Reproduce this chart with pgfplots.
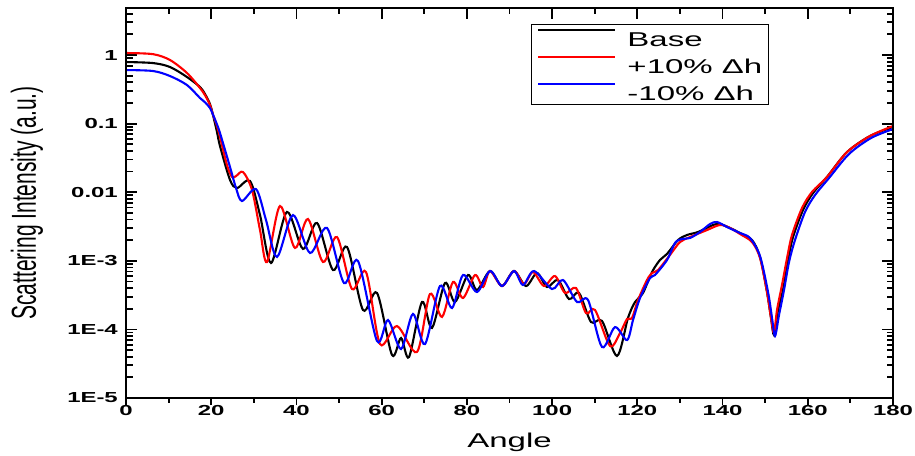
\documentclass[border=0pt]{standalone}
\usepackage{pgfplots}
\pgfplotsset{compat=1.18}
\usepackage{fontspec}
\usepackage{graphicx}
\setmainfont{Liberation Sans}
\newfontfamily\wide{Liberation Sans}[FakeStretch=1.65]
\newcommand{\tickfont}{\wide\bfseries\fontsize{14.5bp}{16bp}\selectfont}
\begin{document}
\begin{tikzpicture}
\begin{axis}[
  scale only axis, width=767bp, height=390bp,
  xmin=0, xmax=180, ymode=log, ymin=1e-5, ymax=4.85,
  axis line style={line width=2.6bp},
  every tick/.style={black, line width=1.8bp},
  major tick length=11bp, minor tick length=6.5bp,
  tick align=inside,
  xtick={0,20,...,180}, minor x tick num=1, xticklabels={},
  xtick pos=right,
  ytick={1e-5,1e-4,1e-3,0.01,0.1,1},
  yticklabels={1E-5,1E-4,1E-3,0.01,0.1,1},
  minor ytick={2e-5,3e-5,4e-5,5e-5,6e-5,7e-5,8e-5,9e-5,
    2e-4,3e-4,4e-4,5e-4,6e-4,7e-4,8e-4,9e-4,
    0.002,0.003,0.004,0.005,0.006,0.007,0.008,0.009,
    0.02,0.03,0.04,0.05,0.06,0.07,0.08,0.09,
    0.2,0.3,0.4,0.5,0.6,0.7,0.8,0.9,2,3,4},
  ytick pos=both,
  yticklabel style={font=\tickfont, inner sep=0bp, anchor=east, xshift=-8bp},
  ylabel={\scalebox{1}[1.65]{Scattering Intensity (a.u.)}},
  ylabel style={at={(axis description cs:-0.1291,0.5)}, anchor=center, font=\fontsize{21bp}{25bp}\selectfont},
  legend style={at={(axis description cs:0.528,0.959)}, anchor=north west,
    draw=black, line width=0.8bp, inner xsep=6bp, inner ysep=3.5bp,
    row sep=8bp, column sep=11bp,
    font=\wide\fontsize{20bp}{24bp}\selectfont,
    nodes={inner sep=0bp, text height=19bp, text depth=0bp}},
  legend cell align=left,
  legend image code/.code={\draw[#1] (0bp,7bp) -- (77bp,7bp);},
]
\addplot[black, line width=2.1bp, smooth] coordinates {
(0,0.791) (6.34,0.764) (10.33,0.669) (14.32,0.478) (17.37,0.342) (18.54,0.270) (19.71,0.193)
(20.42,0.133) (21.36,0.0755) (22.06,0.0471) (24.41,0.0151) (26.05,0.0115) (29.10,0.0146) (31.45,0.00465)
(34.03,0.000929) (37.78,0.00515) (41.54,0.00149) (44.83,0.00356) (48.58,0.000734)
(51.87,0.00159) (55.62,0.000192) (58.91,0.000340) (62.43,0.0000424) (64.54,0.0000750)
(66.42,0.0000396) (69.47,0.000251) (71.81,0.000105) (74.87,0.000475) (77.21,0.000251)
(80.26,0.000621) (82.37,0.000375) (85.43,0.000710) (88.24,0.000429) (91.06,0.000710)
(93.87,0.000429) (96.46,0.000664) (98.80,0.000415) (101.38,0.000525) (103.97,0.000277)
(106.31,0.000340) (109.13,0.000128) (111.71,0.000133) (115.23,0.0000410) (117.81,0.000147)
(119.46,0.000251) (121.33,0.000340) (123.45,0.000687) (125.32,0.00103) (126.97,0.00126)
(129.55,0.00201) (131.66,0.00238) (134.24,0.00263) (137.76,0.00333) (139.40,0.00344)
(141.75,0.00301) (144.10,0.00254) (146.91,0.00201) (148.79,0.00114) (150.43,0.000351)
(151.37,0.000147) (152.08,0.0000829) (153.02,0.000192) (154.19,0.000375) (155.37,0.00103)
(156.54,0.00222) (158.88,0.00550) (161.23,0.00973) (164.51,0.0167) (169.21,0.0385)
(174.60,0.0660) (180,0.0892)
};
\addlegendentry{Base}
\addplot[red, line width=2.1bp, smooth] coordinates {
(0,1.07) (6.34,1.03) (10.33,0.846) (14.32,0.547) (17.37,0.330) (18.54,0.260) (19.71,0.187)
(20.42,0.135) (21.36,0.092) (22.06,0.0638) (23.70,0.0249) (24.88,0.0167) (25.82,0.0172) (27.46,0.0197)
(29.57,0.0108) (31.45,0.00281) (33.09,0.000961) (36.14,0.00629) (39.66,0.00154)
(42.71,0.00407) (46.23,0.000961) (49.52,0.00222) (53.04,0.000388) (56.32,0.000687)
(59.61,0.0000612) (63.60,0.000112) (68.29,0.0000469) (71.34,0.000328) (74.16,0.000152)
(76.74,0.000491) (79.09,0.000287) (81.91,0.000621) (83.78,0.000415) (85.43,0.000710)
(88.24,0.000429) (91.06,0.000710) (93.40,0.000459) (95.52,0.000687) (98.10,0.000429)
(100.68,0.000600) (103.03,0.000340) (105.61,0.000401) (107.96,0.000173) (110.07,0.000192)
(113.59,0.0000573) (115.94,0.0000887) (117.58,0.000142) (118.75,0.000147) (120.16,0.000268)
(122.27,0.000525) (123.45,0.000664) (124.86,0.000734) (127.67,0.00122) (130.02,0.00188)
(132.36,0.00222) (136.35,0.00281) (139.40,0.00333) (141.75,0.00301) (144.10,0.00246)
(146.91,0.00188) (148.79,0.00110) (150.43,0.000351) (151.37,0.000147) (152.08,0.0000887)
(152.78,0.000192) (153.95,0.000444) (155.14,0.00110) (156.30,0.00238) (158.65,0.00589)
(161.00,0.0101) (164.51,0.0167) (169.21,0.0385) (174.60,0.0660) (180,0.0923)
};
\addlegendentry{+10\% Δh}
\addplot[blue, line width=2.1bp, smooth] coordinates {
(0,0.604) (6.34,0.585) (10.33,0.494) (14.32,0.365) (17.37,0.236) (18.54,0.205) (19.71,0.169)
(20.42,0.135) (21.36,0.097) (22.06,0.0729) (24.41,0.0233) (25.82,0.0115) (27.22,0.00744) (30.51,0.0111)
(32.86,0.00393) (35.44,0.00114) (39.19,0.00465) (43.18,0.00130) (47.17,0.00301)
(51.16,0.000475) (54.45,0.000993) (58.91,0.0000677) (61.49,0.000137) (64.54,0.0000518)
(67.35,0.000168) (70.17,0.0000612) (73.69,0.000429) (76.51,0.000205) (79.09,0.000621)
(82.37,0.000351) (85.43,0.000710) (88.24,0.000429) (91.06,0.000710) (93.17,0.000444)
(95.75,0.000710) (99.98,0.000388) (102.56,0.000525) (105.84,0.000251) (108.43,0.000268)
(111.71,0.0000554) (114.76,0.000108) (117.58,0.0000700) (118.99,0.000137) (120.63,0.000287)
(122.98,0.000561) (124.15,0.000621) (126.97,0.00103) (128.84,0.00182) (130.49,0.00208)
(132.36,0.00215) (134.71,0.00263) (137.06,0.00344) (138.70,0.00368) (141.05,0.00311)
(144.10,0.00254) (146.44,0.00215) (148.79,0.00117) (150.67,0.000351) (151.61,0.000147)
(152.31,0.0000801) (153.25,0.000162) (154.42,0.000375) (155.60,0.000961) (157.00,0.00201)
(159.35,0.00515) (161.70,0.00910) (164.98,0.0161) (169.68,0.0361) (174.84,0.0617)
(180,0.0834)
};
\addlegendentry{-10\% Δh}
\end{axis}
\begin{axis}[
  scale only axis, width=767bp, height=390bp,
  xmin=0, xmax=180, ymin=0, ymax=1,
  axis line style={line width=2.6bp},
  every tick/.style={black, line width=1.8bp},
  major tick length=7bp, minor tick length=4.5bp,
  tick align=outside,
  xtick={0,20,...,180}, minor x tick num=1,
  xticklabels={0,20,40,60,80,100,120,140,160,180},
  xtick pos=left,
  ytick=\empty,
  xticklabel style={font=\tickfont, inner sep=0bp, anchor=north},
  xlabel={\wide Angle},
  xlabel style={at={(axis description cs:0.5,0)}, anchor=base, yshift=-49bp, font=\fontsize{20bp}{24bp}\selectfont},
]
\coordinate (sw) at (rel axis cs:0,0);
\end{axis}
\pgfresetboundingbox
\path[use as bounding box] ([shift={(-126bp,-58bp)}]sw) rectangle ([shift={(789bp,398bp)}]sw);
\end{tikzpicture}
\end{document}
